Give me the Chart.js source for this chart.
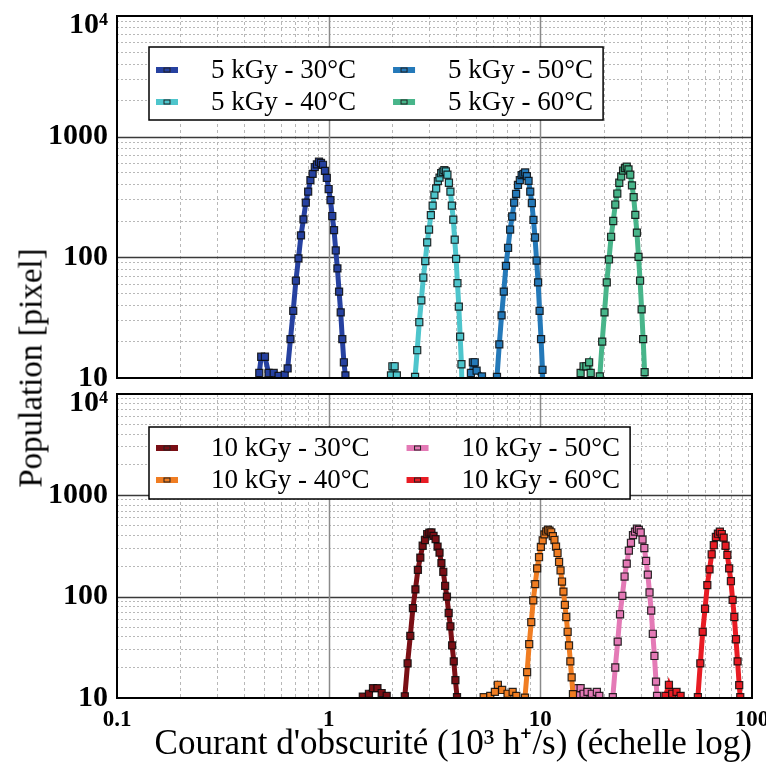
<!DOCTYPE html>
<html>
<head>
<meta charset="utf-8">
<script src="https://cdn.jsdelivr.net/npm/chart.js@4.4.1/dist/chart.umd.min.js"></script>
<style>
    body { margin: 0; background: #fff; }
    #wrap { position: relative; width: 766px; height: 764px; }
    .panel { position: absolute; left: 0; width: 766px; }
    #ylabel {
        position: absolute; left: 31px; top: 368px;
        transform: translate(-50%, -50%) rotate(-90deg);
        font: 33px "Liberation Serif", serif; white-space: nowrap; color: #000;
    }
</style>
</head>
<body>
<div id="wrap">
    <div class="panel" style="top:0;height:400px"><canvas id="top-chart"></canvas></div>
    <div class="panel" style="top:370px;height:394px"><canvas id="bottom-chart"></canvas></div>
    <div id="ylabel">Population [pixel]</div>
</div>
<script>
    "use strict";

    // Axis ticks
    const xTickValues = [0.1, 1, 10, 100];
    const xTickLabels = ['0.1', '1', '10', '100'];
    const yTickValues = [10, 100, 1000, 10000];
    const yTickLabels = ['10', '100', '1000', '10⁴'];
    const xTitle = "Courant d'obscurité (10³ h⁺/s) (échelle log)";

    // 5 kGy series (top panel)
    const labels5 = ['5 kGy - 30°C', '5 kGy - 40°C', '5 kGy - 50°C', '5 kGy - 60°C'];
    const x5_30 = [0.45, 0.47, 0.48, 0.50, 0.52, 0.55, 0.58, 0.62, 0.64, 0.66, 0.68, 0.70, 0.72, 0.74, 0.76, 0.78, 0.80, 0.82, 0.84, 0.86, 0.88, 0.90, 0.92, 0.94, 0.96, 0.98, 1.00, 1.02, 1.04, 1.06, 1.08, 1.10, 1.12, 1.14, 1.16, 1.18, 1.20, 1.23];
    const y5_30 = [2, 11, 15, 15, 11, 11, 10.4, 10.6, 12, 21, 36, 64, 98, 152, 206, 284, 350, 436, 492, 560, 590, 620, 605, 585, 520, 455, 368, 298, 220, 168, 114, 81, 52, 35, 21, 13.5, 10.5, 3];
    const x5_40 = [1.94, 1.97, 2.00, 2.05, 2.10, 2.15, 2.50, 2.56, 2.62, 2.68, 2.74, 2.80, 2.86, 2.92, 2.98, 3.04, 3.10, 3.16, 3.22, 3.28, 3.34, 3.40, 3.46, 3.52, 3.58, 3.64, 3.70, 3.76, 3.82, 3.88, 3.94, 4.00, 4.06, 4.12, 4.18, 4.24, 4.32];
    const y5_40 = [2, 10.5, 12.5, 12.5, 10.5, 3, 3, 10.2, 17, 29, 44, 68, 93, 133, 170, 224, 268, 330, 372, 428, 458, 498, 512, 528, 515, 484, 415, 350, 268, 205, 140, 97, 61, 39, 22, 13, 3];
    const x5_50 = [4.6, 4.7, 4.8, 4.9, 5.0, 5.3, 5.5, 6.1, 6.24, 6.40, 6.56, 6.72, 6.88, 7.04, 7.20, 7.36, 7.52, 7.68, 7.84, 8.00, 8.16, 8.32, 8.48, 8.64, 8.80, 8.96, 9.12, 9.28, 9.44, 9.60, 9.76, 9.92, 10.08, 10.24, 10.4];
    const y5_50 = [2, 11, 13.5, 13.5, 11.5, 10.3, 3, 3, 10.2, 19, 33, 52, 85, 120, 170, 218, 284, 336, 398, 436, 480, 492, 505, 470, 430, 350, 282, 204, 146, 94, 62, 36, 21, 11.7, 3];
    const x5_60 = [15.2, 15.5, 16.0, 16.5, 17.0, 17.3, 17.6, 18.8, 19.1, 19.6, 20.1, 20.6, 21.1, 21.6, 22.1, 22.6, 23.1, 23.6, 24.1, 24.6, 25.1, 25.6, 26.1, 26.6, 27.1, 27.6, 28.1, 28.6, 29.1, 29.6, 30.1, 30.6, 31.1, 31.8];
    const y5_60 = [2, 11, 12.5, 12.5, 13.5, 11, 3, 3, 10.3, 20, 35, 62, 96, 148, 200, 274, 338, 415, 468, 524, 548, 565, 535, 484, 395, 315, 225, 160, 101, 64, 37, 21, 11.2, 3];

    // 10 kGy series (bottom panel)
    const labels10 = ['10 kGy - 30°C', '10 kGy - 40°C', '10 kGy - 50°C', '10 kGy - 60°C'];
    const x10_30 = [1.40, 1.45, 1.55, 1.62, 1.70, 1.78, 1.88, 1.95, 2.20, 2.29, 2.36, 2.43, 2.50, 2.57, 2.64, 2.71, 2.78, 2.85, 2.92, 2.99, 3.06, 3.13, 3.20, 3.27, 3.34, 3.41, 3.48, 3.55, 3.62, 3.69, 3.76, 3.83, 3.90, 3.97, 4.04, 4.12];
    const y10_30 = [2, 10.3, 11, 12.5, 12.5, 11.2, 10.5, 3, 3, 10.4, 22, 41, 77, 118, 184, 243, 318, 362, 415, 428, 430, 398, 370, 312, 272, 214, 176, 128, 100, 69, 51, 33, 23, 15, 10.2, 3];
    const x10_40 = [5.2, 5.4, 5.8, 6.1, 6.3, 6.6, 7.0, 7.4, 7.7, 8.0, 8.3, 8.46, 8.66, 8.86, 9.06, 9.26, 9.46, 9.66, 9.86, 10.06, 10.26, 10.46, 10.66, 10.86, 11.06, 11.26, 11.46, 11.66, 11.86, 12.06, 12.26, 12.46, 12.66, 12.86, 13.06, 13.26, 13.46, 13.66, 13.86, 14.06, 14.26, 14.5];
    const y10_40 = [2, 10.2, 10.5, 11.5, 13.5, 12, 11, 11.5, 10.5, 3, 3, 10.1, 18, 34, 56, 92, 133, 190, 245, 310, 360, 412, 440, 458, 448, 432, 396, 362, 312, 270, 220, 182, 141, 112, 83, 63, 45, 33, 23, 16, 10.9, 3];
    const x10_50 = [14.6, 15.0, 15.5, 16.0, 16.7, 17.5, 18.5, 19.0, 19.5, 21.4, 22.0, 22.6, 23.2, 23.8, 24.4, 25.0, 25.6, 26.2, 26.8, 27.4, 28.0, 28.6, 29.2, 29.8, 30.4, 31.0, 31.6, 32.2, 32.8, 33.4, 34.0, 34.6, 35.2, 35.6, 36.2];
    const y10_50 = [2, 12.5, 12.5, 11, 11.5, 11, 11.5, 10.5, 3, 3, 10.2, 20, 36, 67, 102, 158, 212, 285, 340, 405, 438, 468, 455, 430, 365, 302, 225, 165, 110, 73, 43, 26, 14.5, 10.5, 3];
    const x10_60 = [37.5, 39.0, 40.5, 42.0, 44.0, 46.0, 47.5, 53.5, 55.5, 57.0, 58.5, 60.0, 61.5, 63.0, 64.5, 66.0, 67.5, 69.0, 70.5, 72.0, 73.5, 75.0, 76.5, 78.0, 79.5, 81.0, 82.5, 84.0, 85.5, 87.0, 88.0, 90.0];
    const y10_60 = [2, 10.5, 13.5, 11, 11.5, 10.5, 3, 3, 10.2, 22, 45, 76, 130, 186, 262, 322, 388, 418, 438, 415, 382, 318, 258, 190, 142, 93, 63, 38, 23, 13.4, 10.2, 3];

    const colors5 = ['#2641a0', '#4ec5cc', '#2479b9', '#48b58a'];
    const colors10 = ['#7a0f15', '#f07d22', '#e47ab6', '#e81c24'];

    const SERIF = '"Liberation Serif", "Times New Roman", serif';

    function isDecade(v) {
        const l = Math.log10(v);
        return Math.abs(l - Math.round(l)) < 1e-6;
    }

    // 1..9 in every decade, for the dotted grid
    function logGrid(decades) {
        const out = [];
        for (let i = 0; i < decades.length - 1; i++) {
            for (let m = 1; m < 10; m++) out.push(+(m * decades[i]).toPrecision(6));
        }
        out.push(decades[decades.length - 1]);
        return out;
    }

    function makeSet(label, color, xs, ys) {
        return {
            label: label,
            data: xs.map((x, i) => ({x: x, y: ys[i]})),
            showLine: true,
            borderColor: color,
            backgroundColor: color,
            borderWidth: 5,
            pointStyle: 'rect',
            pointRadius: 5,
            pointBorderWidth: 1.2,
            pointBorderColor: 'rgba(10,10,10,0.85)',
            pointBackgroundColor: color
        };
    }

    // Solid decade lines + black frame
    const frameLines = {
        id: 'frameLines',
        beforeDatasetsDraw(chart) {
            const {ctx, chartArea: a, scales} = chart;
            ctx.save();
            ctx.lineWidth = 1.5;
            ctx.strokeStyle = '#3a3a3a';
            yTickValues.forEach(v => {
                const y = Math.round(scales.y.getPixelForValue(v)) + 0.5;
                if (y < a.top + 2 || y > a.bottom - 2) return;
                ctx.beginPath(); ctx.moveTo(a.left, y); ctx.lineTo(a.right, y); ctx.stroke();
            });
            ctx.strokeStyle = '#8a8a8a';
            xTickValues.forEach(v => {
                const x = Math.round(scales.x.getPixelForValue(v)) + 0.5;
                if (x < a.left + 2 || x > a.right - 2) return;
                ctx.beginPath(); ctx.moveTo(x, a.top); ctx.lineTo(x, a.bottom); ctx.stroke();
            });
            ctx.restore();
        },
        afterDatasetsDraw(chart) {
            const {ctx, chartArea: a} = chart;
            ctx.save();
            ctx.lineWidth = 2;
            ctx.strokeStyle = '#000';
            ctx.strokeRect(a.left, a.top, a.right - a.left, a.bottom - a.top);
            ctx.restore();
        }
    };

    // Two-column legend boxed inside the plot
    const boxLegend = {
        id: 'boxLegend',
        afterDraw(chart, args, opts) {
            const {ctx, chartArea: a} = chart;
            const sets = chart.data.datasets;
            const rows = opts.rowY.length;
            const cols = Math.ceil(sets.length / rows);
            ctx.save();
            ctx.font = opts.font;
            const colX = [];
            let cx = a.left + opts.left + opts.pad;
            for (let c = 0; c < cols; c++) {
                colX.push(cx);
                let w = 0;
                for (let r = 0; r < rows; r++) {
                    const ds = sets[c * rows + r];
                    if (ds) w = Math.max(w, ctx.measureText(ds.label).width);
                }
                cx += opts.swatch + opts.textGap + w + opts.colGap;
            }
            const x0 = a.left + opts.left, y0 = a.top + opts.top;
            const w = cx - opts.colGap + opts.padRight - x0;
            ctx.fillStyle = '#fff';
            ctx.fillRect(x0, y0, w, opts.height);
            ctx.lineWidth = 1.5;
            ctx.strokeStyle = '#000';
            ctx.strokeRect(x0, y0, w, opts.height);
            sets.forEach((ds, i) => {
                const sx = colX[Math.floor(i / rows)];
                const sy = y0 + opts.rowY[i % rows];
                ctx.fillStyle = ds.borderColor;
                ctx.fillRect(sx, sy - 3, opts.swatch, 6);
                ctx.fillStyle = ds.pointBackgroundColor;
                ctx.fillRect(sx + opts.swatch / 2 - 3, sy - 2, 6, 4);
                ctx.lineWidth = 1;
                ctx.strokeStyle = '#222';
                ctx.strokeRect(sx + opts.swatch / 2 - 3, sy - 2, 6, 4);
                ctx.fillStyle = '#000';
                ctx.textBaseline = 'middle';
                ctx.textAlign = 'left';
                ctx.fillText(ds.label, sx + opts.swatch + opts.textGap, sy + 1);
            });
            ctx.restore();
        }
    };

    const xGrid = logGrid(xTickValues);
    const yGrid = logGrid(yTickValues);

    function gridOpts() {
        return {
            color: ctx => (ctx.tick && isDecade(ctx.tick.value)) ? 'rgba(0,0,0,0)' : '#b8b8b8',
            lineWidth: 1,
            drawTicks: false
        };
    }

    function buildChart(id, sets, opts) {
        return new Chart(document.getElementById(id), {
            type: 'scatter',
            data: {datasets: sets},
            options: {
                responsive: true,
                maintainAspectRatio: false,
                animation: false,
                layout: {padding: opts.padding},
                plugins: {
                    legend: {display: false},
                    tooltip: {enabled: false},
                    boxLegend: opts.legend
                },
                scales: {
                    x: {
                        type: 'logarithmic',
                        min: 0.1,
                        max: 100,
                        afterBuildTicks: s => { s.ticks = xGrid.map(v => ({value: v})); },
                        afterFit: s => {
                            s.height = opts.xHeight;
                            s.paddingLeft = 0;
                            s.paddingRight = 0;
                        },
                        grid: gridOpts(),
                        border: {display: false, dash: [3, 3]},
                        ticks: {
                            display: opts.showX,
                            autoSkip: false,
                            maxRotation: 0,
                            padding: 8,
                            color: '#000',
                            font: {family: SERIF, size: 23, weight: 'bold'},
                            callback: v => {
                                const i = xTickValues.findIndex(t => Math.abs(t - v) < 1e-9);
                                return i >= 0 ? xTickLabels[i] : '';
                            }
                        },
                        title: {
                            display: opts.showX,
                            text: xTitle,
                            align: 'end',
                            color: '#000',
                            padding: {top: 0, bottom: 2},
                            font: {family: SERIF, size: 35, lineHeight: 1}
                        }
                    },
                    y: {
                        type: 'logarithmic',
                        min: 10,
                        max: 10000,
                        afterBuildTicks: s => { s.ticks = yGrid.map(v => ({value: v})); },
                        afterFit: s => {
                            s.width = 117;
                            s.paddingTop = 0;
                            s.paddingBottom = 0;
                        },
                        grid: gridOpts(),
                        border: {display: false, dash: [2, 2]},
                        ticks: {
                            autoSkip: false,
                            padding: 9,
                            color: '#000',
                            font: {family: SERIF, size: 30, weight: 'bold', lineHeight: 0.6},
                            callback: v => {
                                const i = yTickValues.findIndex(t => Math.abs(t - v) < 1e-9);
                                if (i < 0) return '';
                                // superscript label sits a bit lower, as in the original
                                return i === yTickValues.length - 1 ? ['', yTickLabels[i]] : yTickLabels[i];
                            }
                        }
                    }
                }
            },
            plugins: [frameLines, boxLegend]
        });
    }

    // Top panel
    buildChart('top-chart', [
        makeSet(labels5[0], colors5[0], x5_30, y5_30),
        makeSet(labels5[1], colors5[1], x5_40, y5_40),
        makeSet(labels5[2], colors5[2], x5_50, y5_50),
        makeSet(labels5[3], colors5[3], x5_60, y5_60)
    ], {
        padding: {left: 0, right: 14, top: 16, bottom: 22},
        xHeight: 0,
        showX: false,
        legend: {font: '27px ' + SERIF, left: 32, top: 31, height: 73, rowY: [23, 55],
                 pad: 7, swatch: 22, textGap: 33, colGap: 37, padRight: 10}
    });

    // Bottom panel
    buildChart('bottom-chart', [
        makeSet(labels10[0], colors10[0], x10_30, y10_30),
        makeSet(labels10[1], colors10[1], x10_40, y10_40),
        makeSet(labels10[2], colors10[2], x10_50, y10_50),
        makeSet(labels10[3], colors10[3], x10_60, y10_60)
    ], {
        padding: {left: 0, right: 14, top: 24, bottom: 0},
        xHeight: 66,
        showX: true,
        legend: {font: '27px ' + SERIF, left: 32, top: 33, height: 72, rowY: [21, 53],
                 pad: 7, swatch: 22, textGap: 33, colGap: 37, padRight: 10}
    });
</script>
</body>
</html>
